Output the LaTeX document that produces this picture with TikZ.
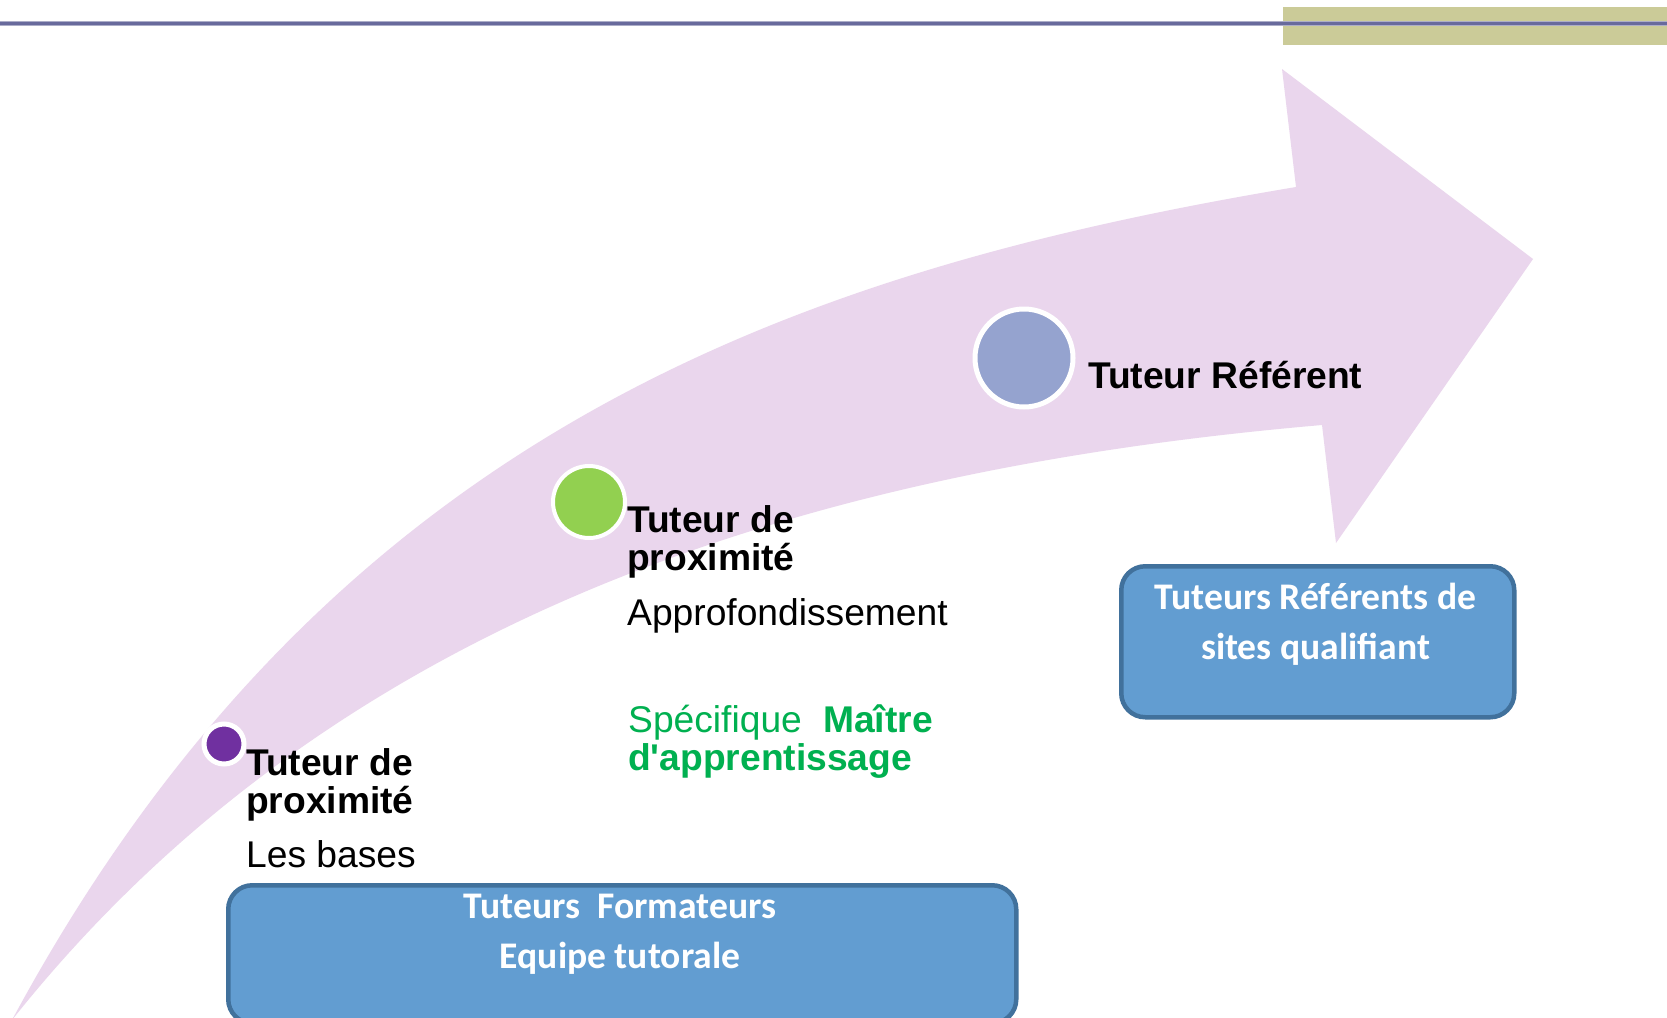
\documentclass[tikz,border=0pt]{standalone}
\usepackage{fontspec}
\newfontfamily\arialf{Liberation Sans}
\newfontfamily\calibrif{Carlito}
\definecolor{arrowfill}{RGB}{234,214,237}
\definecolor{dotpurple}{RGB}{112,48,160}
\definecolor{dotgreen}{RGB}{146,208,80}
\definecolor{dotblue}{RGB}{149,163,207}
\definecolor{boxfill}{RGB}{98,157,209}
\definecolor{boxline}{RGB}{65,113,156}
\definecolor{txtgreen}{RGB}{0,176,80}
\definecolor{topline}{RGB}{104,106,156}
\definecolor{olive}{RGB}{203,203,152}
\begin{document}
\begin{tikzpicture}[x=1pt,y=-1pt,
  lbl/.style={anchor=base west,inner sep=0pt,font={\arialf\fontsize{37.2}{38}\selectfont}},
  lblb/.style={lbl,font={\arialf\bfseries\fontsize{37.2}{38}\selectfont}},
  dot/.style={circle,draw=white,inner sep=0pt},
  bluebox/.style={rectangle,rounded corners=24pt,fill=boxfill,draw=boxline,line width=4.5pt,anchor=north west,inner sep=0pt},
  boxtxt/.style={anchor=base,inner sep=0pt,text=white,font={\calibrif\bfseries\fontsize{37.6}{38}\selectfont}}]
\clip (0,0) rectangle (1667,1017);
\fill[white] (0,0) rectangle (1667,1017);
% header
\fill[olive] (1283,7) rectangle (1667,45);
\draw[topline!55,line width=5.5pt] (0,23.3) -- (1667,23.3);
\draw[topline,line width=3.5pt] (0,23.3) -- (1667,23.3);
% curved arrow
\fill[arrowfill] (12,1020) .. controls (330,430) and (800,270) .. (1296,187)
  -- (1282,69) -- (1533,259) -- (1336,543) -- (1322,425)
  .. controls (800,470) and (330,620) .. (12,1020) -- cycle;
% dots
\node[dot,fill=dotpurple,line width=5pt,minimum size=40pt] (c1) at (224,744) {};
\node[dot,fill=dotgreen,line width=4pt,minimum size=72pt] (c2) at (589,502) {};
\node[dot,fill=dotblue,line width=5pt,minimum size=98pt] (c3) at (1024,358) {};
% labels
\node[lblb] (t1a) at (246,775) {Tuteur de};
\node[lblb] (t1b) at (246,813) {proximité};
\node[lbl]  (t1c) at (246,867) {Les bases};
\node[lblb] (t2a) at (627,532) {Tuteur de};
\node[lblb] (t2b) at (627,570) {proximité};
\node[lbl]  (t2c) at (627,625) {Approfondissement};
\node[lbl,text=txtgreen]  (g1) at (628,732) {Spécifique};
\node[lblb,text=txtgreen] (g2) at (823,732) {Maître};
\node[lblb,text=txtgreen] (g3) at (628,770) {d'apprentissage};
\node[lblb] (t3) at (1088,388) {Tuteur Référent};
% boxes
\node[bluebox,minimum width=788pt,minimum height=138pt] (b1) at (226,883) {};
\node[boxtxt] (b1a) at (620,918) {Tuteurs~~Formateurs};
\node[boxtxt] (b1b) at (620,968) {Equipe tutorale};
\node[bluebox,minimum width=393pt,minimum height=151pt] (b2) at (1119,564) {};
\node[boxtxt] (b2a) at (1315.5,609) {Tuteurs Référents de};
\node[boxtxt] (b2b) at (1315.5,659) {sites qualifiant};
\end{tikzpicture}
\end{document}
